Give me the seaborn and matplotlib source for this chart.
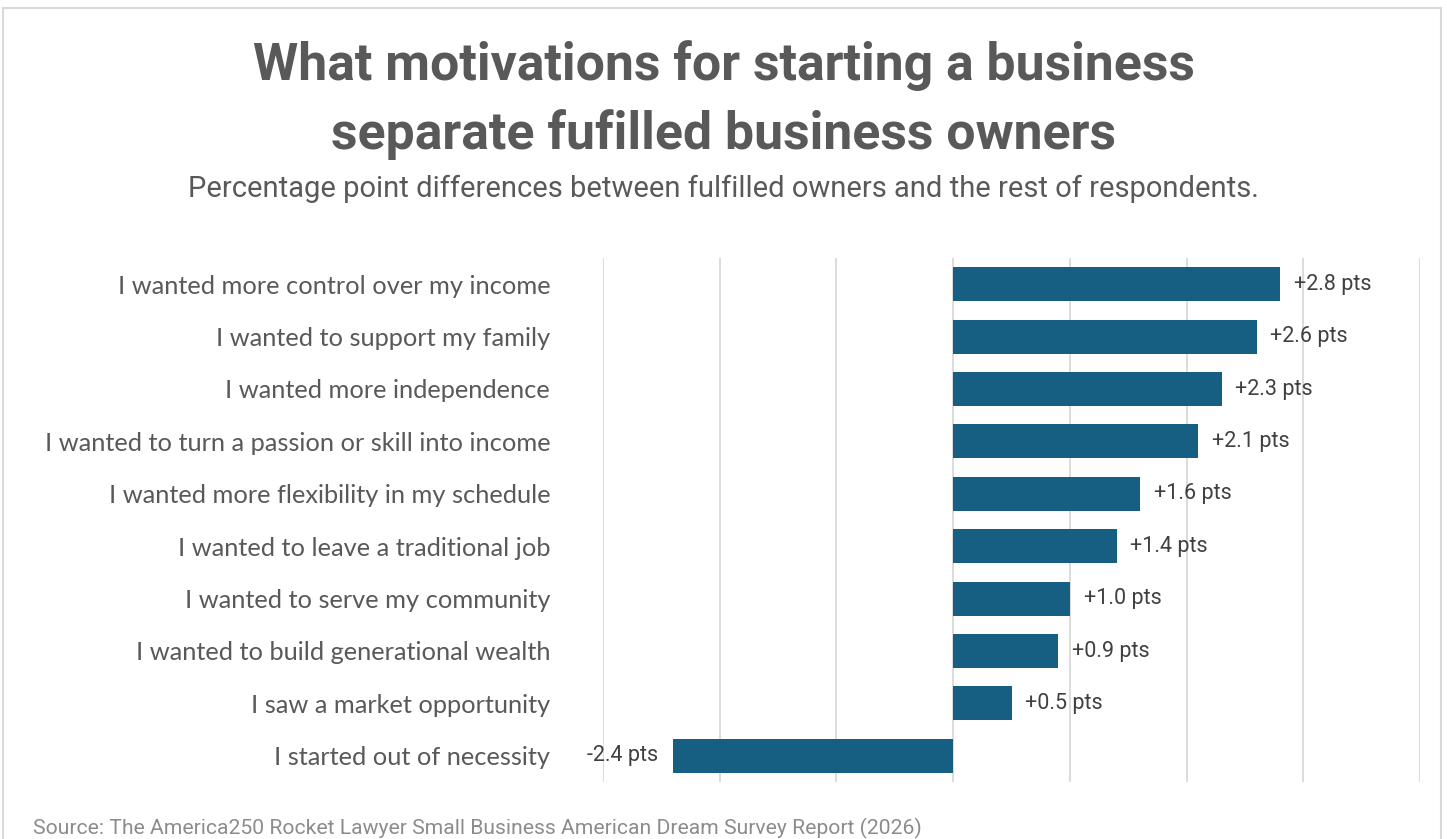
import matplotlib
matplotlib.use("Agg")
import matplotlib.pyplot as plt
import seaborn as sns
import pandas as pd
from matplotlib.patches import Rectangle

categories = [
    "I wanted more control over my income",
    "I wanted to support my family",
    "I wanted more independence",
    "I wanted to turn a passion or skill into income",
    "I wanted more flexibility in my schedule",
    "I wanted to leave a traditional job",
    "I wanted to serve my community",
    "I wanted to build generational wealth",
    "I saw a market opportunity",
    "I started out of necessity",
]
differences = [2.8, 2.6, 2.3, 2.1, 1.6, 1.4, 1.0, 0.9, 0.5, -2.4]
x_ticks = [-3, -2, -1, 0, 1, 2, 3, 4]

title_lines = ["What motivations for starting a business",
               "separate fufilled business owners"]
subtitle_text = "Percentage point differences between fulfilled owners and the rest of respondents."
source_text = "Source: The America250 Rocket Lawyer Small Business American Dream Survey Report (2026)"

BAR_COLOR = "#175F82"
GRID_COLOR = "#D9D9D9"
NARROW = ["Roboto", "DejaVu Sans"]
BODY = ["Lato", "Open Sans", "DejaVu Sans"]

sns.set_theme(style="white")
plt.rcParams["font.family"] = BODY

df = pd.DataFrame({"category": categories, "diff": differences})

W, H = 1447, 839
fig = plt.figure(figsize=(W / 100, H / 100), dpi=100)
ax = fig.add_axes([603 / W, 1 - 782 / H, (1420 - 603) / W, (782 - 258) / H])

sns.barplot(data=df, x="diff", y="category", order=categories, color=BAR_COLOR,
            saturation=1, width=0.65, ax=ax, orient="h", edgecolor="none")

ax.set_xlim(x_ticks[0], x_ticks[-1])
ax.set_ylim(len(categories) - 0.5, -0.5)
ax.set_xticks(x_ticks)
ax.set_xticklabels([])
ax.tick_params(axis="x", length=0)
ax.xaxis.grid(True, color=GRID_COLOR, linewidth=1.3)
ax.yaxis.grid(False)
ax.set_axisbelow(True)
for s in ax.spines.values():
    s.set_visible(False)
ax.set_xlabel("")
ax.set_ylabel("")
ax.tick_params(axis="y", length=0, pad=38)
for lbl in ax.get_yticklabels():
    lbl.set_fontsize(18.3)
    lbl.set_color("#595959")
    lbl.set_family(BODY)

# value labels beside each bar
for patch, val in zip(ax.patches, differences):
    y = patch.get_y() + patch.get_height() / 2
    x0 = patch.get_x()
    x1 = x0 + patch.get_width()
    if val >= 0:
        ax.annotate(f"+{val:.1f} pts", xy=(max(x0, x1), y), xytext=(10, 0),
                    textcoords="offset points", ha="left", va="center",
                    fontsize=15.5, color="#404040", family=NARROW)
    else:
        ax.annotate(f"{val:.1f} pts", xy=(min(x0, x1), y), xytext=(-11, 0),
                    textcoords="offset points", ha="right", va="center",
                    fontsize=15.5, color="#404040", family=NARROW)

fig.text(0.5, 1 - 80 / H, title_lines[0], ha="center", va="baseline",
         fontsize=37.3, fontweight="bold", color="#595959", family=NARROW)
fig.text(0.5, 1 - 149 / H, title_lines[1], ha="center", va="baseline",
         fontsize=37.3, fontweight="bold", color="#595959", family=NARROW)
fig.text(0.5, 1 - 197 / H, subtitle_text, ha="center", va="baseline",
         fontsize=21, color="#595959", family=NARROW)
fig.text(33 / W, 1 - 834 / H, source_text, ha="left", va="baseline",
         fontsize=15.2, color="#8C8C8C", family=NARROW)

# light frame around the chart area
fig.add_artist(Rectangle((3 / W, -0.05), (1441 - 3) / W, 1.05 - 8 / H,
                         transform=fig.transFigure, fill=False,
                         edgecolor="#D9D9D9", linewidth=1.5))

fig.savefig("out.png", dpi=100)
